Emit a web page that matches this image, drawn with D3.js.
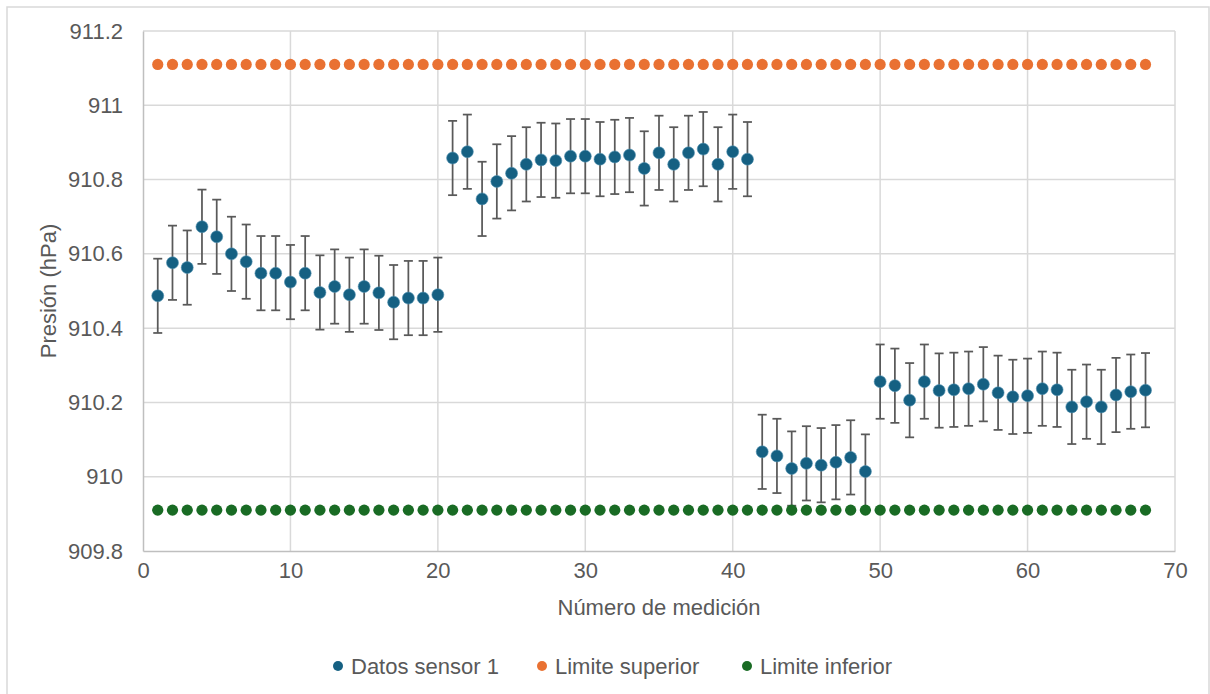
<!DOCTYPE html>
<html><head><meta charset="utf-8">
<script src="https://cdn.jsdelivr.net/npm/d3@7"></script>
<style>
html,body{margin:0;padding:0;background:#fff;}
text{font-family:"Liberation Sans",Arial,sans-serif;fill:#595959;}
</style></head>
<body><svg id="chart" width="1210" height="694"></svg>
<script>
const sensorX = d3.range(1, 69);
const sensorValues = [
 910.487,910.576,910.563,910.673,910.646,910.600,910.579,910.548,910.548,910.524,
 910.548,910.496,910.512,910.490,910.512,910.495,910.470,910.481,910.481,910.490,
 910.858,910.875,910.748,910.795,910.817,910.841,910.853,910.851,910.863,910.863,
 910.855,910.861,910.866,910.830,910.872,910.841,910.872,910.882,910.841,910.875,
 910.855,
 910.067,910.056,910.022,910.036,910.031,910.039,910.052,910.014,
 910.256,910.245,910.206,910.256,910.232,910.234,910.237,910.249,910.226,910.215,
 910.218,910.237,910.234,910.188,910.202,910.188,910.220,910.229,910.233
];
const errorAmount = 0.1;
const upperLimit = sensorX.map(() => 911.11);
const lowerLimit = sensorX.map(() => 909.91);
const xTicks = [0,10,20,30,40,50,60,70];
const yTicks = [909.8,910,910.2,910.4,910.6,910.8,911,911.2];
const seriesNames = ["Datos sensor 1","Limite superior","Limite inferior"];
const seriesColors = ["#156082","#E97132","#196B24"];
const xTitle = "Número de medición";
const yTitle = "Presión (hPa)";

const svg = d3.select("#chart");
const L = 143, R = 1175, T = 31, B = 551;
const FS = "22px";
const x = d3.scaleLinear().domain([0,70]).range([L,R]);
const y = d3.scaleLinear().domain([909.8,911.2]).range([B,T]);

// outer border
svg.append("rect").attr("x",7).attr("y",7).attr("width",1202).attr("height",700)
  .attr("fill","#fff").attr("stroke","#d9d9d9").attr("stroke-width",1.5);

// gridlines
const grid = svg.append("g");
grid.selectAll("line.h").data(yTicks.slice(1)).join("line")
  .attr("x1",L).attr("x2",R).attr("y1",d=>y(d)).attr("y2",d=>y(d))
  .attr("stroke","#d9d9d9").attr("stroke-width",1.5);
grid.selectAll("line.v").data(xTicks.slice(1)).join("line")
  .attr("y1",T).attr("y2",B).attr("x1",d=>x(d)).attr("x2",d=>x(d))
  .attr("stroke","#d9d9d9").attr("stroke-width",1.5);

// axes
const xAxis = d3.axisBottom(x).tickValues(xTicks).tickSize(0).tickPadding(11).tickFormat(d3.format("d"));
const yAxis = d3.axisLeft(y).tickValues(yTicks).tickSize(0).tickPadding(20).tickFormat(d=>String(+d.toFixed(1)));
const gx = svg.append("g").attr("transform",`translate(0,${B})`).call(xAxis);
const gy = svg.append("g").attr("transform",`translate(${L},0)`).call(yAxis);
[gx,gy].forEach(g=>{
  g.select(".domain").attr("stroke","#bfbfbf").attr("stroke-width",1.5);
  g.selectAll("text").style("font-size",FS).attr("fill","#595959");
});
gx.selectAll("text").attr("dy","0.71em");

// axis titles
svg.append("text").attr("x",(L+R)/2).attr("y",615).attr("text-anchor","middle")
  .style("font-size",FS).text(xTitle);
svg.append("text").attr("transform",`translate(56,${(T+B)/2}) rotate(-90)`).attr("text-anchor","middle")
  .style("font-size",FS).text(yTitle);

// sensor series with error bars
const sensor = sensorX.map((d,i)=>({x:d,v:sensorValues[i]}));
const eb = svg.append("g").attr("stroke","#595959").attr("stroke-width",1.75);
eb.selectAll("line.v").data(sensor).join("line")
  .attr("x1",d=>x(d.x)).attr("x2",d=>x(d.x))
  .attr("y1",d=>y(d.v-errorAmount)).attr("y2",d=>y(d.v+errorAmount));
eb.selectAll("line.t").data(sensor).join("line")
  .attr("x1",d=>x(d.x)-4.5).attr("x2",d=>x(d.x)+4.5)
  .attr("y1",d=>y(d.v+errorAmount)).attr("y2",d=>y(d.v+errorAmount));
eb.selectAll("line.b").data(sensor).join("line")
  .attr("x1",d=>x(d.x)-4.5).attr("x2",d=>x(d.x)+4.5)
  .attr("y1",d=>y(d.v-errorAmount)).attr("y2",d=>y(d.v-errorAmount));
svg.append("g").selectAll("circle").data(sensor).join("circle")
  .attr("cx",d=>x(d.x)).attr("cy",d=>y(d.v)).attr("r",6)
  .attr("fill",seriesColors[0]).attr("stroke","#4f8fae").attr("stroke-width",0.6);

// limits
svg.append("g").selectAll("circle").data(upperLimit).join("circle")
  .attr("cx",(d,i)=>x(sensorX[i])).attr("cy",d=>y(d)).attr("r",5.6).attr("fill",seriesColors[1]);
svg.append("g").selectAll("circle").data(lowerLimit).join("circle")
  .attr("cx",(d,i)=>x(sensorX[i])).attr("cy",d=>y(d)).attr("r",5.6).attr("fill",seriesColors[2]);

// legend
const legX = [338,542,747];
const leg = svg.append("g");
seriesNames.forEach((n,i)=>{
  leg.append("circle").attr("cx",legX[i]).attr("cy",666).attr("r",5).attr("fill",seriesColors[i]);
  leg.append("text").attr("x",legX[i]+13).attr("y",666).attr("dy","0.35em")
    .style("font-size",FS).text(n);
});
</script></body></html>
